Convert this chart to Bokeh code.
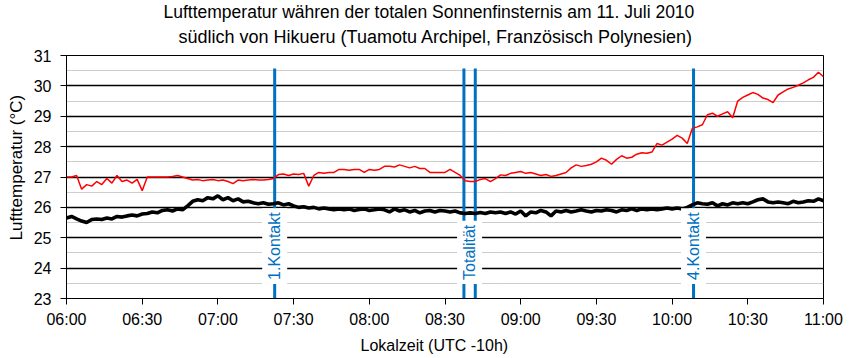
from math import pi
from bokeh.plotting import figure
from bokeh.models import Range1d, FixedTicker, Label, Title
from bokeh.embed import file_html
from bokeh.resources import INLINE

# ---- data (minutes after 06:00 local time) ----
minutes = list(range(0, 301, 2))

temp_red = [
    27.00, 27.00, 27.05, 26.60, 26.75, 26.70, 26.85, 26.75, 26.95, 26.80,
    27.05, 26.85, 26.90, 26.80, 26.92, 26.55, 27.00, 27.00, 27.00, 27.00,
    27.00, 27.02, 27.05, 27.00, 26.95, 26.90, 26.92, 26.88, 26.90, 26.92,
    26.88, 26.90, 26.85, 26.78, 26.90, 26.88, 26.90, 26.92, 26.90, 26.90,
    26.92, 26.95, 27.08, 27.10, 27.05, 27.10, 27.08, 27.12, 26.70, 27.05,
    27.15, 27.12, 27.15, 27.15, 27.25, 27.25, 27.22, 27.25, 27.25, 27.15,
    27.25, 27.22, 27.25, 27.35, 27.35, 27.33, 27.40, 27.35, 27.30, 27.35,
    27.28, 27.28, 27.15, 27.15, 27.15, 27.15, 27.25, 27.15, 27.05, 26.88,
    26.85, 26.85, 26.92, 26.95, 26.85, 26.95, 27.07, 27.05, 27.12, 27.15,
    27.18, 27.12, 27.15, 27.10, 27.05, 27.08, 27.02, 27.05, 27.10, 27.15,
    27.30, 27.40, 27.35, 27.38, 27.42, 27.50, 27.62, 27.55, 27.42, 27.58,
    27.70, 27.62, 27.65, 27.75, 27.80, 27.78, 27.82, 28.10, 28.05, 28.15,
    28.25, 28.37, 28.28, 28.10, 28.60, 28.65, 28.72, 29.05, 29.10, 29.00,
    29.08, 29.15, 28.95, 29.50, 29.62, 29.70, 29.78, 29.72, 29.60, 29.55,
    29.45, 29.70, 29.80, 29.90, 29.95, 30.02, 30.10, 30.20, 30.28, 30.45,
    30.30,
]

temp_black = [
    25.65, 25.70, 25.62, 25.55, 25.50, 25.60, 25.62, 25.60, 25.65, 25.62,
    25.70, 25.68, 25.72, 25.75, 25.72, 25.78, 25.80, 25.85, 25.82, 25.90,
    25.92, 25.88, 25.95, 25.92, 26.05, 26.20, 26.25, 26.22, 26.32, 26.28,
    26.38, 26.25, 26.32, 26.22, 26.28, 26.18, 26.20, 26.15, 26.12, 26.15,
    26.10, 26.12, 26.15, 26.08, 26.12, 26.05, 26.00, 26.02, 25.98, 26.00,
    25.95, 25.98, 25.95, 25.92, 25.95, 25.92, 25.95, 25.90, 25.93, 25.95,
    25.90, 25.92, 25.95, 25.92, 25.85, 25.95, 25.88, 25.92, 25.85, 25.90,
    25.82, 25.88, 25.90, 25.85, 25.90, 25.88, 25.85, 25.88, 25.82, 25.80,
    25.82, 25.80, 25.83, 25.80, 25.85, 25.82, 25.85, 25.80, 25.85, 25.78,
    25.88, 25.72, 25.85, 25.82, 25.90, 25.85, 25.72, 25.88, 25.85, 25.90,
    25.85, 25.88, 25.92, 25.88, 25.85, 25.90, 25.88, 25.92, 25.90, 25.85,
    25.92, 25.90, 25.95, 25.90, 25.95, 25.92, 25.95, 25.92, 25.95, 25.98,
    25.95, 25.98, 25.95, 26.00, 26.08, 26.15, 26.12, 26.10, 26.15, 26.05,
    26.12, 26.08, 26.15, 26.12, 26.15, 26.12, 26.18, 26.25, 26.28, 26.18,
    26.15, 26.18, 26.15, 26.12, 26.20, 26.15, 26.18, 26.22, 26.20, 26.28,
    26.22,
]

event_minutes = [82.5, 157.5, 162.0, 248.5]
label_texts = ["1.Kontakt", "Totalität", "4.Kontakt"]
label_minutes = [82.5, (157.5 + 162.0) / 2, 248.5]

x_ticks = [0, 30, 60, 90, 120, 150, 180, 210, 240, 270, 300]
x_tick_labels = ["06:00", "06:30", "07:00", "07:30", "08:00", "08:30",
                 "09:00", "09:30", "10:00", "10:30", "11:00"]
y_ticks = [23, 24, 25, 26, 27, 28, 29, 30, 31]
y_minor = [23.5, 24.5, 25.5, 26.5, 27.5, 28.5, 29.5, 30.5]

title1 = "Lufttemperatur währen der totalen Sonnenfinsternis am 11. Juli 2010"
title2 = "südlich von Hikueru (Tuamotu Archipel, Französisch Polynesien)"
x_label = "Lokalzeit (UTC -10h)"
y_label = "Lufttemperatur (°C)"

FONT = "Liberation Sans"
BLUE = "#0070C0"
FS = "16px"

p = figure(width=850, height=358, output_backend="svg", toolbar_location=None,
           x_range=Range1d(0, 300), y_range=Range1d(23, 31),
           min_border_left=64, min_border_right=27, min_border_top=55,
           min_border_bottom=60)

p.title.text = title1
p.title.align = "left"
p.title.offset = 97
p.title.text_font = FONT
p.title.text_font_size = "17.5px"
p.title.text_font_style = "normal"
p.title.text_color = "black"
p.title.standoff = -10
p.add_layout(Title(text=title2, align="left", offset=112, text_font=FONT,
                   text_font_size="18px", text_font_style="normal",
                   text_color="black", standoff=17), "above")

p.background_fill_color = "white"
p.border_fill_color = "white"
p.outline_line_color = "black"
p.outline_line_width = 1

# axes
p.xaxis.ticker = FixedTicker(ticks=x_ticks)
p.xaxis.major_label_overrides = {t: l for t, l in zip(x_ticks, x_tick_labels)}
p.yaxis.ticker = FixedTicker(ticks=y_ticks, minor_ticks=y_minor)
for ax in (p.xaxis, p.yaxis):
    ax.major_label_text_font = FONT
    ax.major_label_text_font_size = FS
    ax.major_label_text_color = "black"
    ax.axis_line_color = "black"
    ax.major_tick_line_color = "black"
    ax.major_tick_in = 0
    ax.major_tick_out = 6
    ax.minor_tick_line_color = None
p.xaxis.major_label_standoff = 6
p.yaxis.major_label_standoff = 9

# axis titles as side titles (so they can be offset like the reference)
p.add_layout(Title(text=x_label, align="left", offset=294, text_font=FONT,
                   text_font_size=FS, text_font_style="normal",
                   text_color="black", standoff=8), "below")
p.add_layout(Title(text=y_label, align="left", offset=58, text_font=FONT,
                   text_font_size="17px", text_font_style="normal",
                   text_color="black", standoff=9), "left")

# grid
p.xgrid.grid_line_color = None
p.ygrid.grid_line_color = "black"
p.ygrid.grid_line_width = 1.5
p.ygrid.minor_grid_line_color = "#9a9a9a"
p.ygrid.minor_grid_line_dash = "1 1"
p.ygrid.minor_grid_line_width = 1

# event lines
p.segment(x0=event_minutes, x1=event_minutes,
          y0=[23] * len(event_minutes), y1=[30.57] * len(event_minutes),
          line_color=BLUE, line_width=3)

# data
p.line(minutes, temp_black, line_color="black", line_width=3.6)
p.line(minutes, temp_red, line_color="#ff0000", line_width=1.5)

for lx, txt in zip(label_minutes, label_texts):
    p.add_layout(Label(x=lx, y=23.48, text=txt, angle=pi / 2,
                       text_align="left", text_baseline="middle",
                       text_font=FONT, text_font_size=FS,
                       text_color=BLUE, background_fill_color="white",
                       padding=4))

open("out.html", "w").write(file_html(p, INLINE))
